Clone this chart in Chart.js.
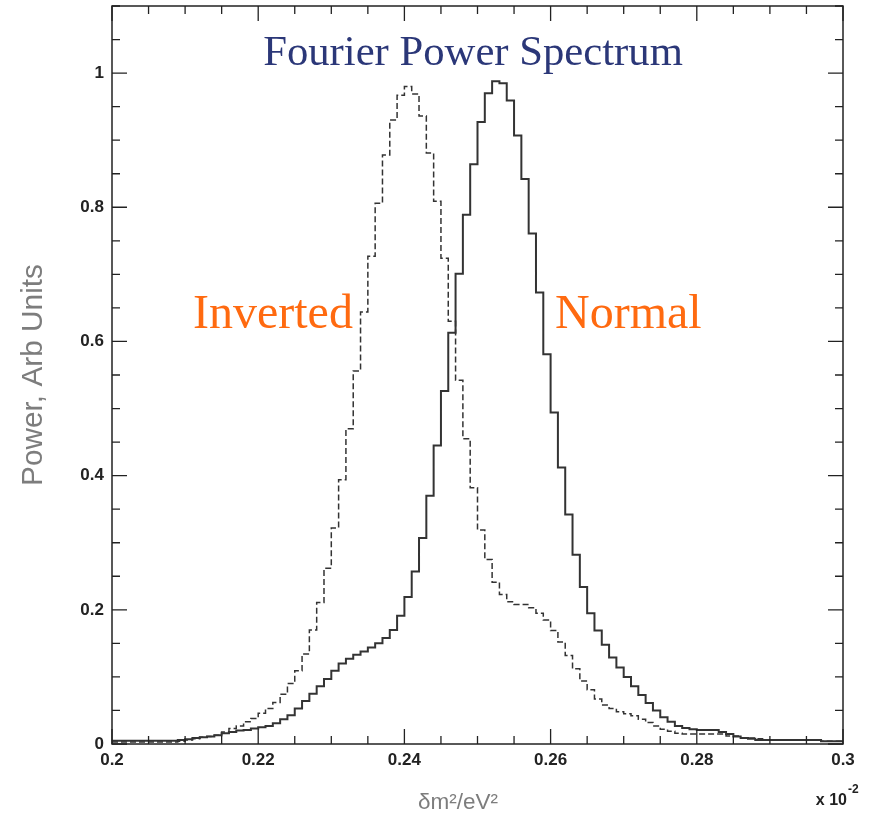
<!DOCTYPE html>
<html>
<head>
<meta charset="utf-8">
<script src="https://cdn.jsdelivr.net/npm/chart.js@4.4.0/dist/chart.umd.min.js"></script>
<style>
  html, body { margin: 0; padding: 0; background: #fff; }
  #wrap { position: relative; width: 885px; height: 818px; }
</style>
</head>
<body>
<div id="wrap"><canvas id="spectrum"></canvas></div>
<script>
// histogram binning, x in units of 10^-2 eV^2
const binLow = 0.2;
const binWidth = 0.001;

// solid histogram ("Normal"), 100 bins
const normalPower = [
  0.005, 0.005, 0.005, 0.005, 0.005, 0.005, 0.005, 0.005, 0.005, 0.006,
  0.007, 0.009, 0.010, 0.011, 0.013, 0.016, 0.018, 0.020, 0.021, 0.023,
  0.025, 0.027, 0.031, 0.037, 0.043, 0.053, 0.064, 0.075, 0.086, 0.097,
  0.109, 0.120, 0.127, 0.133, 0.138, 0.144, 0.150, 0.158, 0.170, 0.191,
  0.219, 0.257, 0.307, 0.370, 0.445, 0.526, 0.613, 0.701, 0.789, 0.864,
  0.927, 0.970, 0.988, 0.985, 0.959, 0.907, 0.842, 0.761, 0.673, 0.581,
  0.494, 0.412, 0.342, 0.282, 0.234, 0.195, 0.169, 0.148, 0.129, 0.114,
  0.100, 0.086, 0.073, 0.061, 0.050, 0.040, 0.033, 0.027, 0.024, 0.022,
  0.021, 0.021, 0.021, 0.018, 0.015, 0.011, 0.009, 0.008, 0.006, 0.006,
  0.006, 0.006, 0.006, 0.006, 0.006, 0.006, 0.006, 0.004, 0.004, 0.004
];

// dashed histogram ("Inverted"), 100 bins
const invertedPower = [
  0.003, 0.003, 0.003, 0.003, 0.003, 0.003, 0.003, 0.003, 0.003, 0.004,
  0.006, 0.008, 0.010, 0.011, 0.013, 0.018, 0.023, 0.027, 0.033, 0.038,
  0.046, 0.053, 0.062, 0.074, 0.090, 0.109, 0.134, 0.170, 0.211, 0.262,
  0.322, 0.394, 0.470, 0.556, 0.644, 0.727, 0.806, 0.878, 0.930, 0.967,
  0.980, 0.969, 0.936, 0.881, 0.809, 0.724, 0.630, 0.542, 0.455, 0.382,
  0.319, 0.275, 0.241, 0.223, 0.212, 0.208, 0.208, 0.203, 0.195, 0.185,
  0.169, 0.152, 0.132, 0.112, 0.094, 0.081, 0.067, 0.058, 0.053, 0.048,
  0.045, 0.042, 0.037, 0.032, 0.027, 0.022, 0.019, 0.016, 0.015, 0.015,
  0.015, 0.015, 0.015, 0.015, 0.012, 0.012, 0.009, 0.009, 0.008, 0.006,
  0.006, 0.006, 0.006, 0.006, 0.006, 0.006, 0.006, 0.004, 0.004, 0.004
];

const xTicks = [0.2, 0.22, 0.24, 0.26, 0.28, 0.3];
const yTicks = [0, 0.2, 0.4, 0.6, 0.8, 1];
const xMinorStep = 0.005;
const yMinorStep = 0.05;

// points at the low edge of every bin, plus the closing edge
function histPoints(vals) {
  const pts = vals.map((v, i) => ({ x: +(binLow + i * binWidth).toFixed(3), y: v }));
  pts.push({ x: +(binLow + vals.length * binWidth).toFixed(3), y: vals[vals.length - 1] });
  return pts;
}

function fitFont(ctx, text, family, weight, targetWidth) {
  ctx.font = weight + " 100px " + family;
  const w = ctx.measureText(text).width;
  return 100 * targetWidth / w;
}

const frameAndText = {
  id: "frameAndText",
  afterDraw(chart) {
    const { ctx, chartArea: a, scales: { x, y } } = chart;
    ctx.save();

    // frame
    ctx.strokeStyle = "#222";
    ctx.lineWidth = 1.5;
    ctx.strokeRect(a.left, a.top, a.right - a.left, a.bottom - a.top);

    // inward ticks on all sides
    ctx.lineWidth = 1.3;
    ctx.beginPath();
    const nx = Math.round((x.max - x.min) / xMinorStep);
    for (let i = 0; i <= nx; i++) {
      const px = x.getPixelForValue(x.min + i * xMinorStep);
      const len = i % 4 === 0 ? 15 : 8;
      ctx.moveTo(px, a.bottom); ctx.lineTo(px, a.bottom - len);
      ctx.moveTo(px, a.top); ctx.lineTo(px, a.top + len);
    }
    const ny = Math.round((y.max - y.min) / yMinorStep);
    for (let i = 0; i <= ny; i++) {
      const py = y.getPixelForValue(y.min + i * yMinorStep);
      const len = i % 4 === 0 ? 15 : 8;
      ctx.moveTo(a.left, py); ctx.lineTo(a.left + len, py);
      ctx.moveTo(a.right, py); ctx.lineTo(a.right - len, py);
    }
    ctx.stroke();

    // title
    ctx.fillStyle = "#2b3778";
    ctx.textAlign = "center";
    ctx.textBaseline = "alphabetic";
    let size = fitFont(ctx, "Fourier Power Spectrum", "'Liberation Serif'", "normal", 420);
    ctx.font = size.toFixed(1) + "px 'Liberation Serif'";
    ctx.fillText("Fourier Power Spectrum", 473, 65);

    // series labels
    ctx.fillStyle = "#ff6a10";
    ctx.textAlign = "left";
    size = fitFont(ctx, "Inverted", "'Liberation Serif'", "normal", 160);
    ctx.font = size.toFixed(1) + "px 'Liberation Serif'";
    ctx.fillText("Inverted", 193, 328);
    ctx.fillText("Normal", 555, 328);

    // axis titles
    ctx.fillStyle = "#7d7d7d";
    ctx.textAlign = "center";
    size = fitFont(ctx, "Power, Arb Units", "'Liberation Sans'", "normal", 222);
    ctx.font = size.toFixed(1) + "px 'Liberation Sans'";
    ctx.save();
    ctx.translate(42, 375);
    ctx.rotate(-Math.PI / 2);
    ctx.fillText("Power, Arb Units", 0, 0);
    ctx.restore();
    size = fitFont(ctx, "δm²/eV²", "'Liberation Sans'", "normal", 80);
    ctx.font = size.toFixed(1) + "px 'Liberation Sans'";
    ctx.fillText("δm²/eV²", 458, 809);

    // exponent
    ctx.fillStyle = "#222";
    ctx.textAlign = "right";
    ctx.font = "bold 16px 'Liberation Sans'";
    ctx.fillText("x 10", 847, 805);
    ctx.textAlign = "left";
    ctx.font = "bold 12px 'Liberation Sans'";
    ctx.fillText("-2", 848, 793);

    ctx.restore();
  }
};

const tickFont = { family: "'Liberation Sans'", size: 17, weight: "bold" };

new Chart(document.getElementById("spectrum"), {
  type: "line",
  data: {
    datasets: [
      {
        label: "Normal",
        data: histPoints(normalPower),
        stepped: "before",
        borderColor: "#333",
        borderWidth: 2,
        pointRadius: 0,
        fill: false
      },
      {
        label: "Inverted",
        data: histPoints(invertedPower),
        stepped: "before",
        borderColor: "#333",
        borderWidth: 1.5,
        borderDash: [6, 3],
        pointRadius: 0,
        fill: false
      }
    ]
  },
  options: {
    animation: false,
    responsive: true,
    maintainAspectRatio: false,
    parsing: false,
    layout: { padding: { top: 6, right: 42, left: 0, bottom: 0 } },
    plugins: { legend: { display: false }, tooltip: { enabled: false } },
    scales: {
      x: {
        type: "linear",
        min: 0.2,
        max: 0.3,
        afterBuildTicks: s => { s.ticks = xTicks.map(v => ({ value: v })); },
        afterFit: s => { s.height = 74; s.paddingLeft = 0; s.paddingRight = 0; },
        grid: { display: false, drawTicks: false },
        border: { display: false },
        ticks: {
          padding: 6,
          color: "#222",
          font: tickFont,
          maxRotation: 0,
          autoSkip: false,
          callback: v => String(v)
        }
      },
      y: {
        type: "linear",
        min: 0,
        max: 1.1,
        afterBuildTicks: s => { s.ticks = yTicks.map(v => ({ value: v })); },
        afterFit: s => { s.width = 112; s.paddingTop = 0; s.paddingBottom = 0; },
        grid: { display: false, drawTicks: false },
        border: { display: false },
        ticks: {
          padding: 8,
          color: "#222",
          font: tickFont,
          autoSkip: false,
          callback: v => String(v)
        }
      }
    }
  },
  plugins: [frameAndText]
});
</script>
</body>
</html>
